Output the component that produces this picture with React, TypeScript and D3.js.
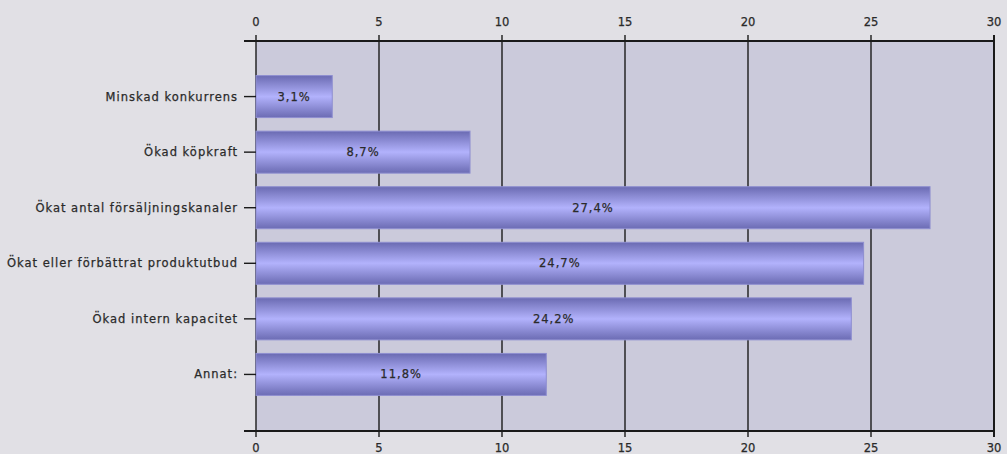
import React from "react";
import * as d3 from "d3";

const categories = [
  "Minskad konkurrens",
  "Ökad köpkraft",
  "Ökat antal försäljningskanaler",
  "Ökat eller förbättrat produktutbud",
  "Ökad intern kapacitet",
  "Annat:",
];
const values = [3.1, 8.7, 27.4, 24.7, 24.2, 11.8];
const xTicks = [0, 5, 10, 15, 20, 25, 30];

const W = 1007;
const H = 454;
const left = 256;
const right = 994;
const top = 41;
const bottom = 430;
const barH = 42;
const font = "'DejaVu Sans', Verdana, sans-serif";
const textStyle = { letterSpacing: "1px" };

export default function App() {
  const x = d3.scaleLinear().domain([0, 30]).range([left, right]);
  const y = d3
    .scalePoint<string>()
    .domain(categories)
    .range([top, bottom])
    .padding(1);

  const fmt = (v: number) => v.toFixed(1).replace(".", ",") + "%";

  return (
    <svg
      width={W}
      height={H}
      style={{ position: "absolute", left: 0, top: 0, display: "block" }}
    >
      <defs>
        <linearGradient id="barGrad" x1="0" y1="0" x2="0" y2="1">
          <stop offset="0" stopColor="#6a6ab2" />
          <stop offset="0.12" stopColor="#7c7cc4" />
          <stop offset="0.5" stopColor="#b2b2fc" />
          <stop offset="0.88" stopColor="#7c7cc4" />
          <stop offset="1" stopColor="#6c6cb4" />
        </linearGradient>
      </defs>
      <rect x={0} y={0} width={W} height={H} fill="#e1e0e5" />
      <rect
        x={left}
        y={top}
        width={right - left}
        height={bottom - top}
        fill="#cbcadb"
      />

      {/* vertical grid lines */}
      {xTicks.map((t) => (
        <line
          key={"g" + t}
          x1={x(t)}
          x2={x(t)}
          y1={top - 6}
          y2={bottom + 7}
          stroke="#1a1a1a"
          strokeWidth={t === 30 ? 2 : 1.4}
        />
      ))}

      {/* top and bottom axis lines */}
      <line x1={left - 12} x2={right + 1} y1={top} y2={top} stroke="#1a1a1a" strokeWidth={1.8} />
      <line x1={left - 12} x2={right + 1} y1={bottom + 1} y2={bottom + 1} stroke="#1a1a1a" strokeWidth={1.8} />

      {/* tick labels */}
      {xTicks.map((t) => (
        <g
          key={"t" + t}
          fontFamily={font}
          fontSize={11.5}
          fill="#2a2a2a"
          stroke="#2a2a2a"
          strokeWidth={0.25}
          textAnchor="middle"
        >
          <text x={x(t)} y={26}>{t}</text>
          <text x={x(t)} y={452}>{t}</text>
        </g>
      ))}

      {/* bars */}
      {categories.map((c, i) => {
        const cy = y(c)!;
        return (
          <g key={c}>
            <rect
              x={x(0)}
              y={cy - barH / 2}
              width={x(values[i]) - x(0)}
              height={barH}
              fill="url(#barGrad)"
              stroke="#8e8ed0"
              strokeWidth={1}
            />
            <line x1={left - 12} x2={left} y1={cy} y2={cy} stroke="#1a1a1a" strokeWidth={1.4} />
            <g fontFamily={font} fontSize={11.5} fill="#2a2a2a" stroke="#2a2a2a" strokeWidth={0.25}>
              <text x={left - 18} y={cy + 4} textAnchor="end" style={textStyle}>
                {c}
              </text>
              <text
                x={(x(0) + x(values[i])) / 2}
                y={cy + 4}
                textAnchor="middle"
                style={textStyle}
              >
                {fmt(values[i])}
              </text>
            </g>
          </g>
        );
      })}
    </svg>
  );
}
